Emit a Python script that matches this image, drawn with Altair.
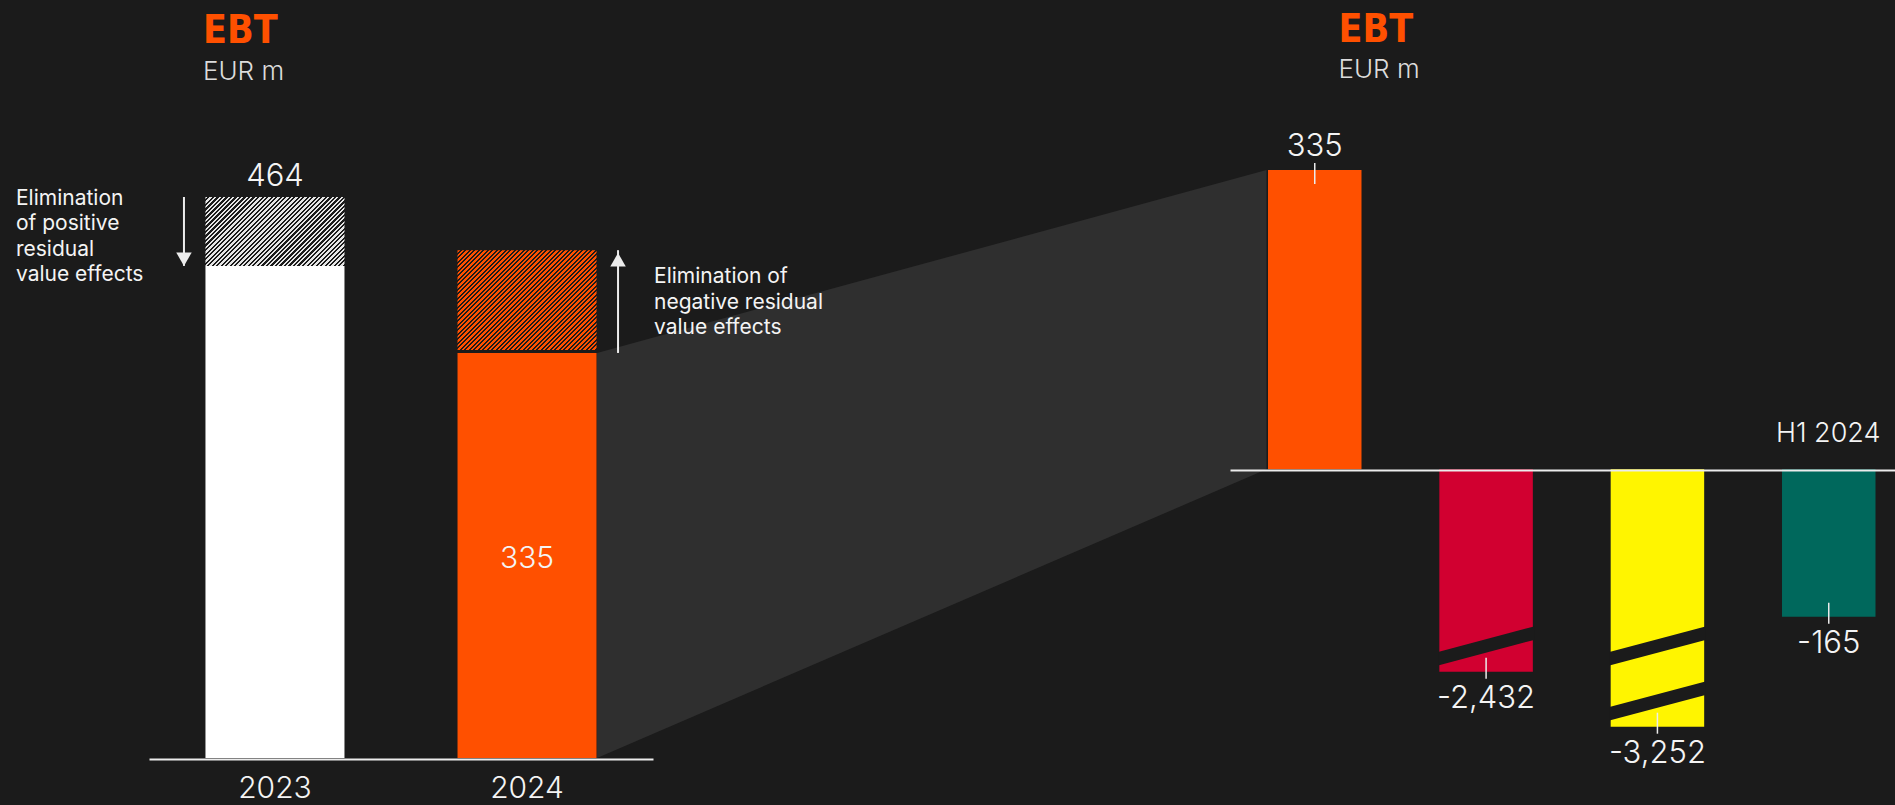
import altair as alt
import numpy as np
import pandas as pd

# ------------------------------------------------------------------ data
years = ["2023", "2024"]
ebt_reported = [464, 335]               # EUR m, as reported
residual_value_effects = [57, -85]      # EUR m, residual value effects eliminated (hatched part)
effect_notes = [
    "Elimination\nof positive\nresidual\nvalue effects",
    "Elimination of\nnegative residual\nvalue effects",
]

companies = ["SIXT", "Peer A", "Peer B", "Peer C"]
h1_2024_ebt = [335, -2432, -3252, -165]  # EUR m, H1 2024
axis_breaks = [0, 1, 2, 0]               # number of axis-break marks on each bar

period_label = "H1 2024"
chart_title = "EBT"
unit_label = "EUR m"

# ------------------------------------------------------------------ style
W, H = 1895, 805
BG = "#1b1b1b"
BAND = "#2f2f2f"
ORANGE = "#ff5000"
WHITE = "#ffffff"
TXT = "#f4f4f4"
SUB = "#dcdcdc"
HATCH_LIGHT = "#e6e6e6"
RULE = "#ececec"
year_colors = [WHITE, ORANGE]
hatch_colors = [HATCH_LIGHT, ORANGE]
hatch_gaps = [0, 3]
company_colors = [ORANGE, "#d10030", "#fff500", "#00685c"]
SANS = "Inter, Liberation Sans, sans-serif"
COND = "Liberation Sans Narrow, Arial Narrow, DejaVu Sans Condensed, sans-serif"
NOTE_LH = 25.5

# left panel geometry
L_X = [149, 653]
L_PI, L_PO = 0.4485, 0.224
L_ZERO, L_K = 758.0, 1.2091          # baseline px, px per EUR m
# right panel geometry
R_X = [1230, 1895]
R_PI, R_PO, R_ALIGN = 0.4543, 0.1678, 0.661
R_ZERO, R_K = 469.3, 0.8934
BREAK_STEP = 55.0


def band(rng, n, pi, po, align, i):
    span = rng[1] - rng[0]
    step = span / max(1.0, n - pi + 2 * po)
    start = rng[0] + (span - step * (n - pi)) * align
    return start + step * i, step * (1 - pi)


L_BW = band(L_X, len(years), L_PI, L_PO, 0.5, 0)[1]
R_BW = band(R_X, len(companies), R_PI, R_PO, R_ALIGN, 0)[1]

left_y_dom = [0, 500]
left_y_rng = [L_ZERO - d * L_K for d in left_y_dom]

# broken (piecewise) scale for the right panel
unbroken = [v for v, b in zip(h1_2024_ebt, axis_breaks) if b == 0] + [0]
r_lo, r_hi = min(unbroken), max(unbroken)
pts = {r_hi: R_ZERO - r_hi * R_K, r_lo: R_ZERO - r_lo * R_K}
for v, b in zip(h1_2024_ebt, axis_breaks):
    if b > 0:
        pts[v] = R_ZERO - r_lo * R_K + BREAK_STEP * b
right_y_dom = sorted(pts)
right_y_rng = [pts[d] for d in right_y_dom]


def hatch_fill(w, h, c1, c2, period=4.5, frac=0.52):
    L = w + h
    d = w * w + h * h
    n = max(1, int(round(L / period)))
    stops = []
    for i in range(n):
        a, b, c = i / n, (i + frac) / n, (i + 1) / n
        stops += [
            alt.GradientStop(color=c1, offset=a),
            alt.GradientStop(color=c1, offset=b),
            alt.GradientStop(color=c2, offset=b),
            alt.GradientStop(color=c2, offset=c),
        ]
    return alt.LinearGradient(gradient="linear", stops=stops,
                              x1=0, y1=0, x2=L * w / d, y2=L * h / d)


# ------------------------------------------------------------------ left panel
left = pd.DataFrame({"year": years, "reported": ebt_reported,
                     "effect": residual_value_effects, "note": effect_notes})
left["adjusted"] = left["reported"] - left["effect"]
left["lo"] = left[["reported", "adjusted"]].min(axis=1)
left["hi"] = left[["reported", "adjusted"]].max(axis=1)
left["mid"] = (left["lo"] + left["hi"]) / 2
left["half"] = left["reported"] / 2
left["label"] = left["reported"].map(lambda v: f"{v:,}")

xL = alt.X(
    "year:N",
    scale=alt.Scale(domain=years, range=L_X, paddingInner=L_PI, paddingOuter=L_PO, round=False),
    axis=alt.Axis(orient="bottom", offset=L_ZERO + 1 - H, domain=True, domainColor=RULE,
                  domainWidth=2, ticks=False, tickSize=0, labels=True, labelFont=SANS,
                  labelFontSize=30, labelFontWeight=300, labelColor=TXT, labelPadding=14,
                  labelAngle=0, grid=False, title=None, zindex=1),
)


def yL(f):
    return alt.Y(f, scale=alt.Scale(domain=left_y_dom, range=left_y_rng, nice=False, zero=False),
                 axis=None)


base_l = alt.Chart(left)
left_layers = [
    base_l.mark_bar().encode(
        x=xL, y=yL("lo:Q"), y2=alt.datum(0),
        color=alt.Color("year:N", scale=alt.Scale(domain=years, range=year_colors), legend=None)),
]
for i, yr in enumerate(years):
    row = left.iloc[i]
    hpx = (row["hi"] - row["lo"]) * L_K - hatch_gaps[i]
    left_layers.append(
        base_l.transform_filter(alt.datum.year == yr)
        .mark_bar(fill=hatch_fill(L_BW, hpx, hatch_colors[i], BG), y2Offset=-hatch_gaps[i])
        .encode(x=xL, y=yL("hi:Q"), y2=alt.Y2("lo"))
    )

NUM = dict(font=SANS, fontSize=31, fontWeight=300, color=TXT, baseline="middle", align="center")
NOTE = dict(align="left", baseline="middle", lineBreak="\n", lineHeight=NOTE_LH,
            font=SANS, fontSize=21, color=TXT)
n_lines = [t.count("\n") + 1 for t in effect_notes]
left_layers += [
    base_l.transform_filter("datum.effect > 0").mark_text(dy=-19.5, **NUM)
    .encode(x=xL, y=yL("hi:Q"), text="label:N"),
    base_l.transform_filter("datum.effect < 0").mark_text(dy=4, **{**NUM, "fontSize": 30})
    .encode(x=xL, y=yL("half:Q"), text="label:N"),
    # arrows
    base_l.transform_filter("datum.effect > 0").mark_rule(color=RULE, strokeWidth=2, xOffset=-91)
    .encode(x=xL, y=yL("hi:Q"), y2=alt.Y2("lo")),
    base_l.transform_filter("datum.effect > 0")
    .mark_point(shape="triangle-down", filled=True, size=240, color=RULE, opacity=1,
                xOffset=-91, yOffset=-6.7)
    .encode(x=xL, y=yL("lo:Q")),
    base_l.transform_filter("datum.effect < 0").mark_rule(color=RULE, strokeWidth=2, xOffset=91)
    .encode(x=xL, y=yL("lo:Q"), y2=alt.Y2("hi")),
    base_l.transform_filter("datum.effect < 0")
    .mark_point(shape="triangle-up", filled=True, size=240, color=RULE, opacity=1,
                xOffset=91, yOffset=9.5)
    .encode(x=xL, y=yL("hi:Q")),
    # notes (block centred on the hatched segment)
    base_l.transform_filter("datum.effect > 0")
    .mark_text(dx=16 - 275, dy=5.4 - (n_lines[0] - 1) * NOTE_LH / 2, **NOTE)
    .encode(x=xL, y=yL("mid:Q"), text="note:N"),
    base_l.transform_filter("datum.effect < 0")
    .mark_text(dx=127, dy=1 - (n_lines[1] - 1) * NOTE_LH / 2, **NOTE)
    .encode(x=xL, y=yL("mid:Q"), text="note:N"),
]
left_group = alt.layer(*left_layers)

# ------------------------------------------------------------------ right panel
right = pd.DataFrame({"company": companies, "ebt": h1_2024_ebt, "breaks": axis_breaks})
right["label"] = right["ebt"].map(lambda v: f"{v:,}")

xR = alt.X(
    "company:N",
    scale=alt.Scale(domain=companies, range=R_X, paddingInner=R_PI, paddingOuter=R_PO,
                    align=R_ALIGN, round=False),
    axis=alt.Axis(orient="top", offset=-(R_ZERO + 0.7), domain=True, domainColor=RULE,
                  domainWidth=2, ticks=False, tickSize=0, labels=False, grid=False,
                  title=period_label, titleFont=SANS, titleFontSize=27, titleFontWeight=300,
                  titleColor=TXT, titleX=1880, titleY=-29, titleAlign="right",
                  titleBaseline="alphabetic", titleAngle=0, zindex=1),
)


def yR(f):
    return alt.Y(f, scale=alt.Scale(domain=right_y_dom, range=right_y_rng, nice=False, zero=False),
                 axis=None)


# break stripe as a custom symbol (unit square -1..1 scaled by half-width)
HALF = 48.0
NEAR, FAR, THICK = 13.4, 38.2, 13.5
slope = (FAR - NEAR) / R_BW
cen = -(NEAR + FAR) / 2
yl = cen + slope * HALF
yr_ = cen - slope * HALF
STRIPE = "M-1,{a:.4f}L-1,{b:.4f}L1,{c:.4f}L1,{d:.4f}Z".format(
    a=(yl + THICK / 2) / HALF, b=(yl - THICK / 2) / HALF,
    c=(yr_ - THICK / 2) / HALF, d=(yr_ + THICK / 2) / HALF)
STRIPE_SIZE = (2 * HALF) ** 2

base_r = alt.Chart(right)
right_group = alt.layer(
    base_r.mark_bar().encode(
        x=xR, y=yR("ebt:Q"), y2=alt.datum(0),
        color=alt.Color("company:N", scale=alt.Scale(domain=companies, range=company_colors),
                        legend=None)),
    base_r.transform_filter("datum.breaks >= 1")
    .mark_point(shape=STRIPE, size=STRIPE_SIZE, filled=True, color=BG, opacity=1, strokeWidth=0)
    .encode(x=xR, y=yR("ebt:Q")),
    base_r.transform_filter("datum.breaks >= 2")
    .mark_point(shape=STRIPE, size=STRIPE_SIZE, filled=True, color=BG, opacity=1, strokeWidth=0,
                yOffset=-BREAK_STEP)
    .encode(x=xR, y=yR("ebt:Q")),
    base_r.transform_filter("datum.ebt < 0")
    .mark_rule(color=RULE, strokeWidth=1.5, yOffset=-14, y2Offset=7)
    .encode(x=xR, y=yR("ebt:Q"), y2=alt.Y2("ebt")),
    base_r.transform_filter("datum.ebt > 0")
    .mark_rule(color=RULE, strokeWidth=1.5, yOffset=-7, y2Offset=14)
    .encode(x=xR, y=yR("ebt:Q"), y2=alt.Y2("ebt")),
    base_r.transform_filter("datum.ebt > 0").mark_text(dy=-23.5, **NUM)
    .encode(x=xR, y=yR("ebt:Q"), text="label:N"),
    base_r.transform_filter("datum.ebt < 0").mark_text(dy=27.5, **NUM)
    .encode(x=xR, y=yR("ebt:Q"), text="label:N"),
)

# ------------------------------------------------------------------ connector band
x_left_edge = band(L_X, len(years), L_PI, L_PO, 0.5, 1)[0] + L_BW + 0.5
x_right_edge = band(R_X, len(companies), R_PI, R_PO, R_ALIGN, 0)[0] - 1.5
conn = pd.DataFrame({
    "x": [x_left_edge, x_right_edge],
    "top": [np.interp(ebt_reported[1], left_y_dom, left_y_rng),
            np.interp(h1_2024_ebt[0], right_y_dom, right_y_rng)],
    "bottom": [np.interp(0, left_y_dom, left_y_rng),
               np.interp(0, right_y_dom, right_y_rng)],
})
connector = alt.Chart(conn).mark_area(color=BAND, opacity=1).encode(
    x=alt.X("x:Q", scale=alt.Scale(domain=[0, W], range=[0, W], nice=False, zero=False), axis=None),
    y=alt.Y("top:Q", scale=alt.Scale(domain=[0, H], range=[0, H], nice=False, zero=False), axis=None),
    y2=alt.Y2("bottom"),
)


# ------------------------------------------------------------------ titles
def title_text(txt, x, y, size, color, font, weight):
    return alt.Chart(pd.DataFrame({"t": [txt]})).mark_text(
        align="left", baseline="alphabetic", font=font, fontSize=size, fontWeight=weight,
        color=color).encode(text="t:N", x=alt.value(x), y=alt.value(y))


titles = [
    title_text(chart_title, 203, 42.5, 39, ORANGE, COND, "bold"),
    title_text(unit_label, 203, 80, 26, SUB, SANS, 300),
    title_text(chart_title, 1338.5, 41.5, 39, ORANGE, COND, "bold"),
    title_text(unit_label, 1338.5, 78, 26, SUB, SANS, 300),
]

chart = (
    alt.layer(connector, left_group, right_group, *titles)
    .resolve_scale(x="independent", y="independent", color="independent")
    .properties(width=W, height=H, background=BG, padding=0,
                autosize=alt.AutoSizeParams(type="none"))
    .configure_view(stroke=None)
)

chart.save("out.html", embed_options={"renderer": "svg", "actions": False})
